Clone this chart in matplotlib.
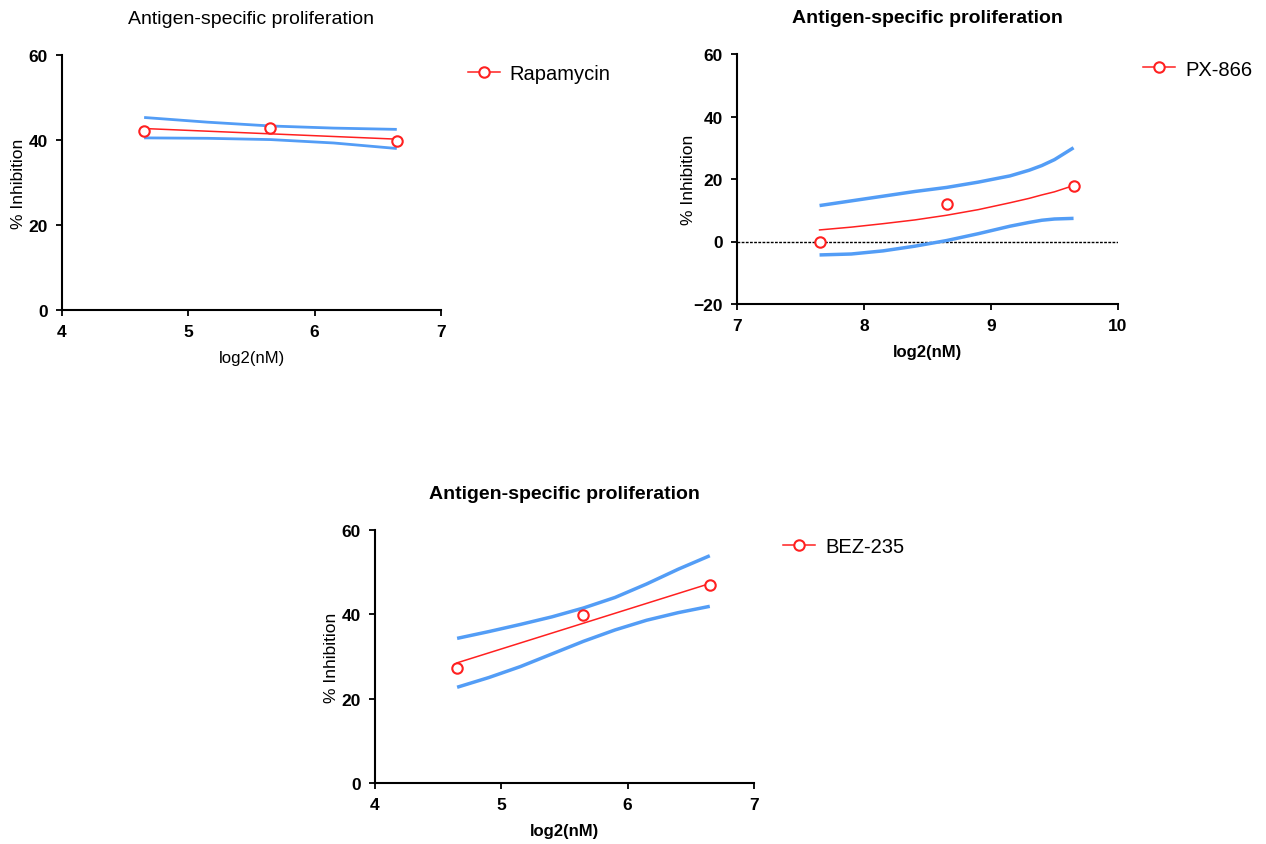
import matplotlib
matplotlib.use("Agg")
import matplotlib.pyplot as plt

plt.rcParams['font.family'] = ['Liberation Sans', 'DejaVu Sans']

TITLE = "Antigen-specific proliferation"
RED = '#ff2020'
BLUE = '#539df6'

# --- Rapamycin ---
rapa_x = [4.65, 5.65, 6.65]
rapa_y = [42.1, 42.8, 39.7]
rapa_fit_x = [4.65, 6.65]
rapa_fit_y = [42.7, 40.2]
rapa_band_x = [4.65, 5.15, 5.65, 6.15, 6.65]
rapa_upper = [45.3, 44.2, 43.3, 42.8, 42.5]
rapa_lower = [40.5, 40.4, 40.1, 39.3, 38.0]

# --- PX-866 ---
px_x = [7.65, 8.65, 9.65]
px_y = [-0.1, 11.9, 17.9]
px_curve_x = [7.65, 7.9, 8.15, 8.4, 8.65, 8.9, 9.15, 9.3, 9.4, 9.5, 9.65]
px_fit_y = [3.7, 4.6, 5.7, 6.9, 8.4, 10.2, 12.4, 13.8, 14.9, 15.9, 17.9]
px_upper = [11.5, 13.0, 14.5, 16.0, 17.3, 19.0, 21.0, 22.8, 24.3, 26.2, 30.0]
px_lower = [-4.3, -4.0, -3.0, -1.5, 0.3, 2.5, 4.9, 6.1, 6.8, 7.2, 7.4]

# --- BEZ-235 ---
bez_x = [4.65, 5.65, 6.65]
bez_y = [27.3, 39.8, 47.0]
bez_fit_x = [4.65, 6.65]
bez_fit_y = [28.5, 47.3]
bez_band_x = [4.65, 4.9, 5.15, 5.4, 5.65, 5.9, 6.15, 6.4, 6.65]
bez_upper = [34.3, 35.9, 37.6, 39.4, 41.5, 44.0, 47.2, 50.7, 53.9]
bez_lower = [22.7, 25.0, 27.6, 30.6, 33.6, 36.3, 38.6, 40.4, 41.9]


def style_axes(ax, xlim, ylim, xticks, yticks, bold):
    for s in ['top', 'right']:
        ax.spines[s].set_visible(False)
    for s in ['left', 'bottom']:
        ax.spines[s].set_linewidth(1.5)
    ax.set_xlim(*xlim)
    ax.set_ylim(*ylim)
    ax.set_xticks(xticks)
    ax.set_yticks(yticks)
    ax.tick_params(direction='out', length=4, width=1.3, labelsize=12.5, pad=6)
    for lab in ax.get_xticklabels() + ax.get_yticklabels():
        lab.set_fontweight('bold')
    w = 'bold' if bold else 'normal'
    ax.set_xlabel("log2(nM)", fontsize=12, fontweight=w, labelpad=8)
    ax.set_ylabel("% Inhibition", fontsize=12.5, labelpad=2)
    ax.set_title(TITLE, fontsize=14, fontweight=w, pad=23)


def draw(ax, px, py, fx, fy, bx, up, lo, name, lw_band, leg_pos):
    ax.plot(bx, up, color=BLUE, lw=lw_band, solid_capstyle='butt')
    ax.plot(bx, lo, color=BLUE, lw=lw_band, solid_capstyle='butt')
    ax.plot(fx, fy, color=RED, lw=1.1)
    ax.plot(px, py, ls='none', marker='o', mfc='white', mec=RED, mew=1.5, ms=7.5)
    h, = ax.plot([], [], color=RED, lw=1.1, marker='o', mfc='white', mec=RED, mew=1.5, ms=7.5)
    ax.legend([h], [name], loc='center left', bbox_to_anchor=leg_pos, frameon=False,
              fontsize=14.5, borderpad=0, borderaxespad=0, handlelength=1.6,
              handletextpad=0.5)


fig = plt.figure(figsize=(12.66, 8.45), dpi=100)

ax1 = fig.add_axes([62/1266, 1-311/845, 379/1266, 255/845])
draw(ax1, rapa_x, rapa_y, rapa_fit_x, rapa_fit_y, rapa_band_x, rapa_upper, rapa_lower,
     "Rapamycin", 2.0, (1.07, 0.929))
style_axes(ax1, (4, 7), (0, 60), [4, 5, 6, 7], [0, 20, 40, 60], False)

ax2 = fig.add_axes([737/1266, 1-305/845, 381/1266, 250/845])
ax2.axhline(0, color='black', lw=1, ls=(0, (2, 1)))
draw(ax2, px_x, px_y, px_curve_x, px_fit_y, px_curve_x, px_upper, px_lower,
     "PX-866", 2.5, (1.066, 0.94))
style_axes(ax2, (7, 10), (-20, 60), [7, 8, 9, 10], [-20, 0, 20, 40, 60], True)
ax2.yaxis.labelpad = -2

ax3 = fig.add_axes([375/1266, 1-784/845, 379/1266, 253/845])
draw(ax3, bez_x, bez_y, bez_fit_x, bez_fit_y, bez_band_x, bez_upper, bez_lower,
     "BEZ-235", 2.5, (1.077, 0.933))
style_axes(ax3, (4, 7), (0, 60), [4, 5, 6, 7], [0, 20, 40, 60], True)

fig.savefig("out.png", dpi=100)
